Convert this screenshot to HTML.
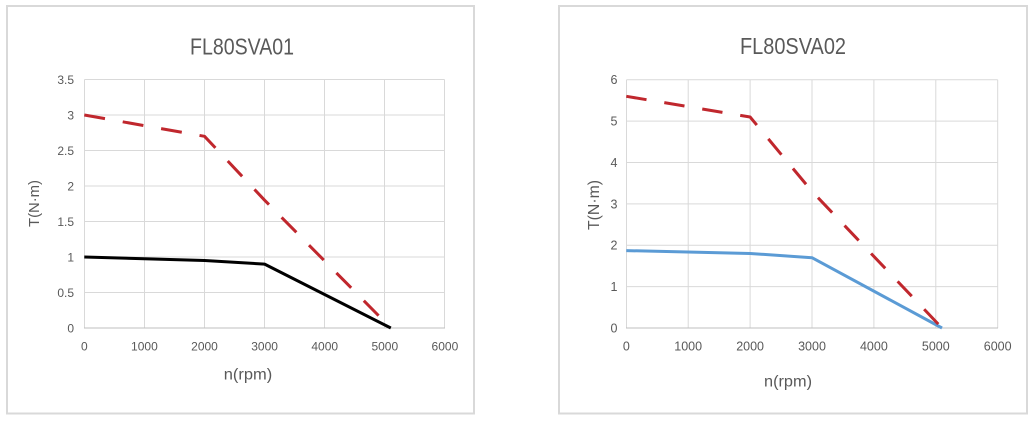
<!DOCTYPE html>
<html>
<head>
<meta charset="utf-8">
<style>
  html,body{margin:0;padding:0;background:#fff;}
  svg{display:block;}
  text{font-family:"Liberation Sans",sans-serif;fill:#595959;}
</style>
</head>
<body>
<svg width="1034" height="422" viewBox="0 0 1034 422" xmlns="http://www.w3.org/2000/svg">
  <rect x="0" y="0" width="1034" height="422" fill="#fff"/>

  <!-- ===== Left chart ===== -->
  <rect x="7" y="6" width="467" height="407.5" fill="#fff" stroke="#d9d9d9" stroke-width="2"/>
  <g stroke="#d9d9d9" stroke-width="1">
    <line x1="84.5" y1="79.5" x2="444.5" y2="79.5"/>
    <line x1="84.5" y1="115" x2="444.5" y2="115"/>
    <line x1="84.5" y1="150.5" x2="444.5" y2="150.5"/>
    <line x1="84.5" y1="186" x2="444.5" y2="186"/>
    <line x1="84.5" y1="221.5" x2="444.5" y2="221.5"/>
    <line x1="84.5" y1="257" x2="444.5" y2="257"/>
    <line x1="84.5" y1="292.5" x2="444.5" y2="292.5"/>
    <line x1="84.5" y1="79.5" x2="84.5" y2="328"/>
    <line x1="144.5" y1="79.5" x2="144.5" y2="328"/>
    <line x1="204.5" y1="79.5" x2="204.5" y2="328"/>
    <line x1="264.5" y1="79.5" x2="264.5" y2="328"/>
    <line x1="324.5" y1="79.5" x2="324.5" y2="328"/>
    <line x1="384.5" y1="79.5" x2="384.5" y2="328"/>
    <line x1="444.5" y1="79.5" x2="444.5" y2="328"/>
  </g>
  <line x1="84" y1="328" x2="445" y2="328" stroke="#bfbfbf" stroke-width="1"/>

  <text x="242" y="54.3" font-size="23" text-anchor="middle" textLength="104" lengthAdjust="spacingAndGlyphs">FL80SVA01</text>

  <g font-size="12" text-anchor="end">
    <text x="74" y="83.8">3.5</text>
    <text x="74" y="119.3">3</text>
    <text x="74" y="154.8">2.5</text>
    <text x="74" y="190.3">2</text>
    <text x="74" y="225.8">1.5</text>
    <text x="74" y="261.3">1</text>
    <text x="74" y="296.8">0.5</text>
    <text x="74" y="332.3">0</text>
  </g>
  <g font-size="12" text-anchor="middle">
    <text x="84.3" y="350.3">0</text>
    <text x="144.4" y="350.3">1000</text>
    <text x="204.5" y="350.3">2000</text>
    <text x="264.6" y="350.3">3000</text>
    <text x="324.7" y="350.3">4000</text>
    <text x="384.8" y="350.3">5000</text>
    <text x="444.9" y="350.3">6000</text>
  </g>
  <text x="248" y="379.5" font-size="16" text-anchor="middle" textLength="48.5" lengthAdjust="spacingAndGlyphs">n(rpm)</text>
  <text transform="translate(39,203.5) rotate(-90)" font-size="15" text-anchor="middle" textLength="47" lengthAdjust="spacingAndGlyphs">T(N·m)</text>

  <polyline points="84.3,257 204.5,260.55 264.6,264.1 390.8,328" fill="none" stroke="#000" stroke-width="3" stroke-linejoin="round"/>
  <polyline points="84.3,115 204.5,136.3 264.6,200.2 390.8,328" fill="none" stroke="#c0272d" stroke-width="3" stroke-dasharray="21 18" stroke-linejoin="round"/>

  <!-- ===== Right chart ===== -->
  <rect x="559" y="6" width="468" height="407.5" fill="#fff" stroke="#d9d9d9" stroke-width="2"/>
  <g stroke="#d9d9d9" stroke-width="1">
    <line x1="626.5" y1="79.7" x2="997.7" y2="79.7"/>
    <line x1="626.5" y1="121.1" x2="997.7" y2="121.1"/>
    <line x1="626.5" y1="162.5" x2="997.7" y2="162.5"/>
    <line x1="626.5" y1="203.9" x2="997.7" y2="203.9"/>
    <line x1="626.5" y1="245.2" x2="997.7" y2="245.2"/>
    <line x1="626.5" y1="286.6" x2="997.7" y2="286.6"/>
    <line x1="626.5" y1="79.7" x2="626.5" y2="328"/>
    <line x1="688.2" y1="79.7" x2="688.2" y2="328"/>
    <line x1="750.1" y1="79.7" x2="750.1" y2="328"/>
    <line x1="812" y1="79.7" x2="812" y2="328"/>
    <line x1="873.9" y1="79.7" x2="873.9" y2="328"/>
    <line x1="935.8" y1="79.7" x2="935.8" y2="328"/>
    <line x1="997.7" y1="79.7" x2="997.7" y2="328"/>
  </g>
  <line x1="626" y1="328" x2="998" y2="328" stroke="#bfbfbf" stroke-width="1"/>

  <text x="793" y="54" font-size="23" text-anchor="middle" textLength="106" lengthAdjust="spacingAndGlyphs">FL80SVA02</text>

  <g font-size="12.5" text-anchor="end">
    <text x="617.5" y="84.2">6</text>
    <text x="617.5" y="125.6">5</text>
    <text x="617.5" y="167">4</text>
    <text x="617.5" y="208.4">3</text>
    <text x="617.5" y="249.7">2</text>
    <text x="617.5" y="291.1">1</text>
    <text x="617.5" y="332.5">0</text>
  </g>
  <g font-size="12.5" text-anchor="middle">
    <text x="626.3" y="350.3">0</text>
    <text x="688.2" y="350.3">1000</text>
    <text x="750.1" y="350.3">2000</text>
    <text x="812" y="350.3">3000</text>
    <text x="873.9" y="350.3">4000</text>
    <text x="935.8" y="350.3">5000</text>
    <text x="997.7" y="350.3">6000</text>
  </g>
  <text x="788" y="386.5" font-size="16" text-anchor="middle" textLength="48" lengthAdjust="spacingAndGlyphs">n(rpm)</text>
  <text transform="translate(599,205) rotate(-90)" font-size="16" text-anchor="middle" textLength="50" lengthAdjust="spacingAndGlyphs">T(N·m)</text>

  <polyline points="626.3,250.6 750.1,253.5 812,257.7 942,328" fill="none" stroke="#5b9bd5" stroke-width="3" stroke-linejoin="round"/>
  <polyline points="626.3,96.3 750.1,117 812,191.4 942,328" fill="none" stroke="#c0272d" stroke-width="3" stroke-dasharray="20.5 18" stroke-linejoin="round"/>
</svg>
</body>
</html>
